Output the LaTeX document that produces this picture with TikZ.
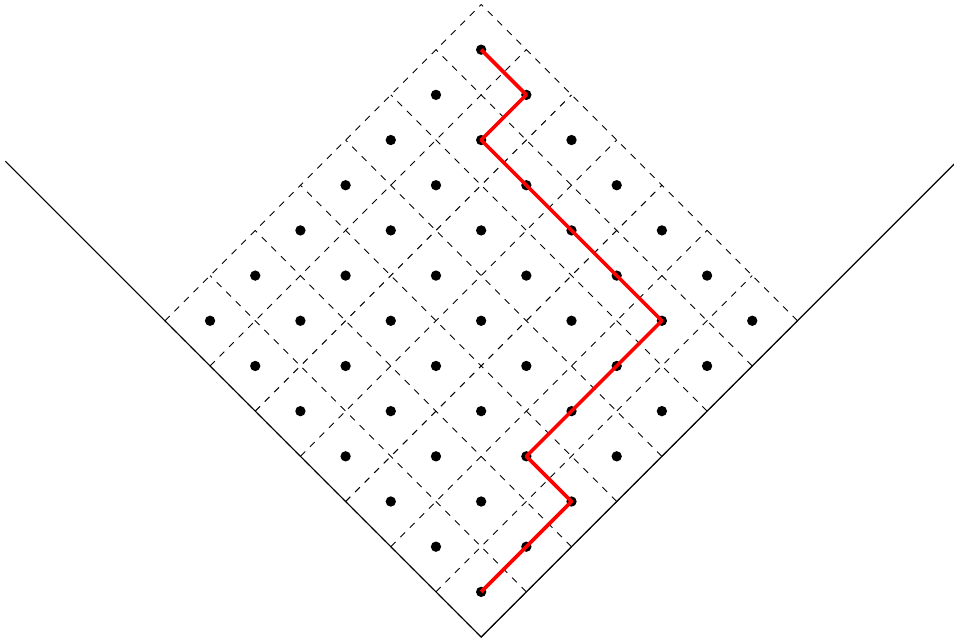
\documentclass[tikz,border=0pt]{standalone}
\usepackage{tikz}
\usetikzlibrary{calc}

\begin{document}
\begin{tikzpicture}[x=1cm, y=1cm,
    gridline/.style={dashed, line width=0.4pt},
    wall/.style={line width=0.5pt, black},
    site/.style={circle, fill=black, inner sep=0pt, minimum size=4.6pt},
    walk/.style={red, line width=1.6pt, line join=round}]
  \useasboundingbox (-7.53,-0.08) rectangle (7.40,9.97);

  \begin{scope}[rotate=45]
    % the dashed lattice
    \foreach \k in {0,...,7} {
      \draw[gridline] (\k,0) -- (\k,7);
      \draw[gridline] (0,\k) -- (7,\k);
    }
    % the two walls
    \draw[wall] (0,10.53) -- (0,0) -- (10.6,0);
    % one site in every cell
    \foreach \i in {0,...,6}
      \foreach \j in {0,...,6}
        \node[site] (d-\i-\j) at (\i+0.5,\j+0.5) {};
  \end{scope}

  % the walk
  \draw[walk] (d-6-6.center) -- (d-6-5.center) -- (d-5-5.center) -- (d-5-4.center)
    -- (d-5-3.center) -- (d-5-2.center) -- (d-5-1.center) -- (d-4-1.center)
    -- (d-3-1.center) -- (d-2-1.center) -- (d-2-0.center) -- (d-1-0.center)
    -- (d-0-0.center);
\end{tikzpicture}
\end{document}
